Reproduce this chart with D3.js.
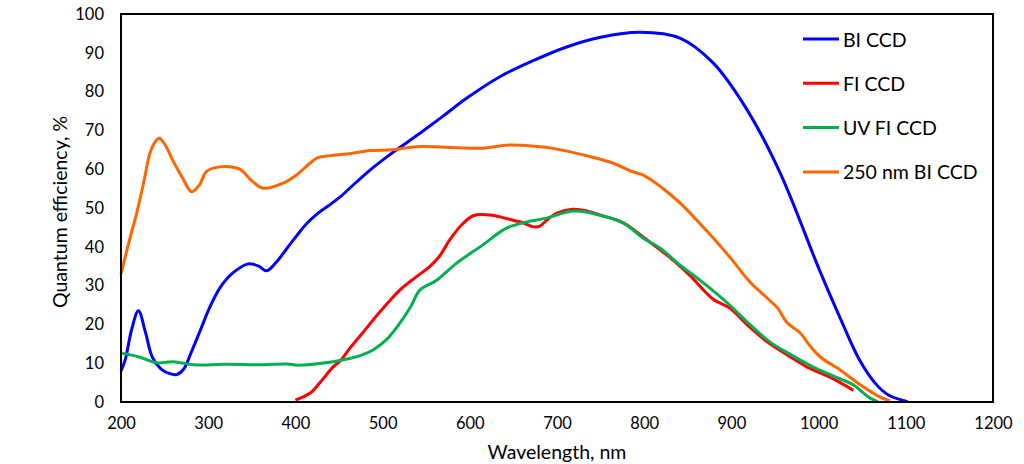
<!DOCTYPE html>
<html>
<head>
<meta charset="utf-8">
<script src="https://cdn.jsdelivr.net/npm/d3@7"></script>
<style>
  html, body { margin: 0; padding: 0; background: #fff; }
  svg text { font-family: Lato, "Noto Sans", sans-serif; fill: #000; }
</style>
</head>
<body>
<svg id="chart" width="1024" height="464"></svg>
<script>
// ---- data ----
const seriesNames = ["BI CCD", "FI CCD", "UV FI CCD", "250 nm BI CCD"];
const seriesColors = ["#0000FF", "#FF0000", "#00B050", "#FF6600"];

const biWl  = [200, 205, 212, 220, 228, 236, 246, 256, 264, 272, 280, 291, 302, 314, 328, 346, 358, 367, 378, 390, 402, 413, 425, 438, 451, 470, 489, 508, 528, 546, 570, 597, 635, 672, 711, 750, 795, 841, 879, 918, 956, 1001, 1025, 1047, 1065, 1080, 1102];
const biQe  = [8, 11, 18.5, 23.5, 18, 11.5, 8.5, 7.3, 7.1, 8.5, 12.5, 18.5, 24.5, 29.6, 33.2, 35.6, 35, 33.8, 36, 39.5, 43, 46, 48.5, 50.6, 52.8, 56.7, 60.4, 63.7, 66.9, 69.8, 73.8, 78.4, 83.9, 87.9, 91.5, 94, 95.3, 93.8, 87.4, 75.3, 59, 34, 21.5, 10.8, 4.8, 1.8, 0.1];

const fiWl  = [400, 417, 430, 443, 451, 463, 477, 498, 520, 537, 554, 565, 577, 590, 604, 623, 642, 661, 672, 680, 690, 700, 718, 735, 749, 776, 803, 833, 852, 879, 898, 920, 941, 965, 987, 1013, 1040];
const fiQe  = [0.5, 2.3, 5.5, 9, 10.5, 14, 17.8, 23.5, 28.9, 32, 34.9, 37.5, 41.8, 45.5, 48, 48.2, 47.3, 46.2, 45.2, 45.3, 47.2, 48.7, 49.7, 49.2, 48.2, 46.2, 41.8, 36.6, 32.7, 26.5, 24.2, 19.5, 15.5, 12, 9, 6.4, 3];

const uvWl  = [200, 221, 241, 260, 283, 320, 360, 390, 403, 443, 462, 475, 489, 505, 520, 532, 543, 562, 585, 615, 642, 665, 688, 718, 741, 776, 799, 818, 841, 864, 898, 920, 944, 968, 994, 1018, 1040, 1050, 1059, 1068];
const uvQe  = [12.6, 11.6, 10.1, 10.4, 9.6, 9.7, 9.6, 9.8, 9.5, 10.4, 11.2, 12, 13.4, 16.2, 20.4, 24.5, 28.9, 31.4, 35.8, 40.5, 44.8, 46.4, 47.4, 49.2, 48.6, 46.1, 42.2, 39.7, 35.3, 31.4, 25, 20.2, 15.5, 12.2, 9, 6.6, 4.4, 2.6, 1, 0.1];

const orWl  = [200, 210, 218, 226, 233, 239, 244, 250, 260, 270, 281, 290, 298, 313, 336, 350, 363, 386, 400, 417, 425, 440, 459, 486, 510, 539, 580, 615, 642, 680, 692, 730, 764, 787, 799, 820, 841, 870, 898, 921, 941, 953, 964, 979, 990, 1002, 1025, 1048, 1070, 1082];
const orQe  = [33, 42, 48.7, 56.5, 64, 67, 68, 66.5, 62, 58, 54.2, 56, 59.4, 60.6, 60, 57, 55.1, 56.4, 58.3, 61.6, 62.9, 63.5, 63.9, 64.8, 65, 65.8, 65.6, 65.4, 66.2, 65.8, 65.5, 63.7, 61.6, 59.3, 58.5, 55.3, 51.3, 44.5, 37.4, 31, 26.8, 24.2, 20.4, 17.8, 14.5, 11.6, 8.2, 4.4, 1.3, 0.3];

const xTicks = [200, 300, 400, 500, 600, 700, 800, 900, 1000, 1100, 1200];
const yTicks = [0, 10, 20, 30, 40, 50, 60, 70, 80, 90, 100];
const xTitle = "Wavelength, nm";
const yTitle = "Quantum efficiency, %";

// ---- layout ----
const svg = d3.select("#chart");
const plot = { left: 121, right: 993, top: 14, bottom: 402 };

const x = d3.scaleLinear().domain([200, 1200]).range([plot.left, plot.right]);
const y = d3.scaleLinear().domain([0, 100]).range([plot.bottom, plot.top]);

const series = [
  { name: seriesNames[0], color: seriesColors[0], pts: biWl.map((w, i) => [w, biQe[i]]) },
  { name: seriesNames[1], color: seriesColors[1], pts: fiWl.map((w, i) => [w, fiQe[i]]) },
  { name: seriesNames[2], color: seriesColors[2], pts: uvWl.map((w, i) => [w, uvQe[i]]) },
  { name: seriesNames[3], color: seriesColors[3], pts: orWl.map((w, i) => [w, orQe[i]]) }
];

// axes (labels only, no tick marks)
const xAxis = d3.axisBottom(x).tickValues(xTicks).tickSize(0).tickPadding(15).tickFormat(d3.format("d"));
const yAxis = d3.axisLeft(y).tickValues(yTicks).tickSize(0).tickPadding(17).tickFormat(d3.format("d"));

const gx = svg.append("g").attr("transform", `translate(0,${plot.bottom})`).call(xAxis);
const gy = svg.append("g").attr("transform", `translate(${plot.left},0)`).call(yAxis);
[gx, gy].forEach(g => {
  g.select(".domain").remove();
  g.selectAll("text").style("font-size", "16.5px").style("font-family", "Lato, 'Noto Sans', sans-serif").attr("fill", "#000");
});

// lines
const line = d3.line()
  .x(d => x(d[0]))
  .y(d => y(d[1]))
  .curve(d3.curveCatmullRom.alpha(0.5));

svg.append("g").selectAll("path")
  .data(series)
  .join("path")
  .attr("d", d => line(d.pts))
  .attr("fill", "none")
  .attr("stroke", d => d.color)
  .attr("stroke-width", 3)
  .attr("stroke-linejoin", "round")
  .attr("stroke-linecap", "butt");

// frame
svg.append("rect")
  .attr("x", plot.left).attr("y", plot.top)
  .attr("width", plot.right - plot.left).attr("height", plot.bottom - plot.top)
  .attr("fill", "none").attr("stroke", "#000").attr("stroke-width", 2);

// titles
svg.append("text")
  .attr("x", (plot.left + plot.right) / 2).attr("y", 451)
  .attr("text-anchor", "middle").attr("dominant-baseline", "central")
  .style("font-size", "19.5px").text(xTitle);

svg.append("text")
  .attr("transform", `translate(59,${(plot.top + plot.bottom) / 2 + 4}) rotate(-90)`)
  .attr("text-anchor", "middle").attr("dominant-baseline", "central")
  .style("font-size", "19.5px").text(yTitle);

// legend
const legend = svg.append("g");
const legY0 = 39, legStep = 44.3;
series.forEach((s, i) => {
  const ly = legY0 + i * legStep;
  legend.append("line")
    .attr("x1", 803).attr("x2", 839).attr("y1", ly).attr("y2", ly)
    .attr("stroke", s.color).attr("stroke-width", 3);
  legend.append("text")
    .attr("x", 843).attr("y", ly)
    .attr("dominant-baseline", "central")
    .style("font-size", "19.5px")
    .text(s.name);
});
</script>
</body>
</html>
